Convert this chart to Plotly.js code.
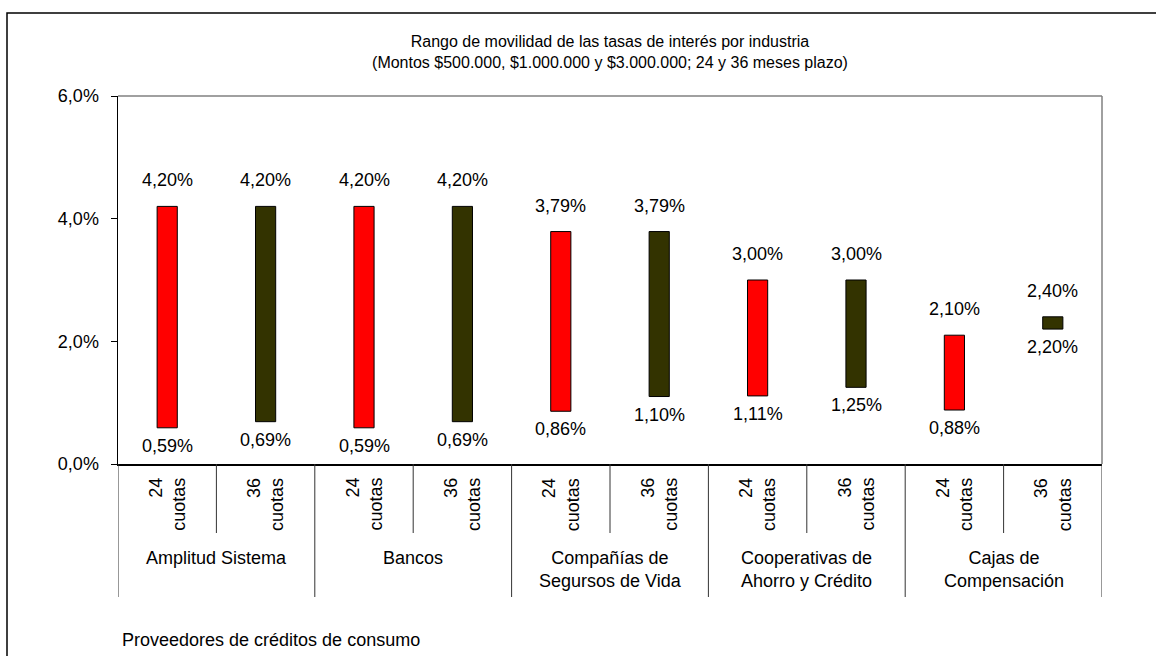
<!DOCTYPE html>
<html>
<head>
<meta charset="utf-8">
<script src="https://cdn.plot.ly/plotly-3.0.1.min.js"></script>
<style>
  html, body { margin: 0; padding: 0; background: #fff; }
  #chart { width: 1156px; height: 656px; }
</style>
</head>
<body>
<div id="chart"></div>
<script>
  // ====== Data ======
  var groups = ['Amplitud Sistema', 'Bancos', 'Compañías de<br>Segursos de Vida',
                'Cooperativas de<br>Ahorro y Crédito', 'Cajas de<br>Compensación'];
  var terms = ['24<br>cuotas', '36<br>cuotas'];
  var minRates = [0.59, 0.69, 0.59, 0.69, 0.86, 1.10, 1.11, 1.25, 0.88, 2.20];
  var maxRates = [4.20, 4.20, 4.20, 4.20, 3.79, 3.79, 3.00, 3.00, 2.10, 2.40];
  var yTicks = [0, 2, 4, 6];
  var title = 'Rango de movilidad de las tasas de interés por industria<br>' +
              '(Montos $500.000, $1.000.000 y $3.000.000; 24 y 36 meses plazo)';
  var footer = 'Proveedores de créditos de consumo';

  // ====== Style ======
  var FONT = 'Liberation Sans, Arial, sans-serif';
  var termColors = ['#ff0000', '#333300'];
  var PLOT_H = 368, PLOT_W = 984; // px of plot area, used to convert pixel offsets to paper

  function fmt(v, d) { return v.toFixed(d).replace('.', ',') + '%'; }
  function py(px) { return -px / PLOT_H; }   // px below the x axis -> paper y
  function px2x(px) { return px / PLOT_W; }  // px right of the y axis -> paper x

  var xs = [], heights = [], colors = [];
  for (var i = 0; i < minRates.length; i++) {
    xs.push(i);
    heights.push(maxRates[i] - minRates[i]);
    colors.push(termColors[i % terms.length]);
  }

  var trace = {
    type: 'bar', x: xs, y: heights, base: minRates, width: 0.205,
    marker: { color: colors, line: { color: '#000', width: 1 } },
    hoverinfo: 'skip'
  };

  var annotations = [], shapes = [];
  var valFont = { family: FONT, size: 18, color: '#000' };
  var txtFont = { family: FONT, size: 18, color: '#000' };

  // value labels
  for (var i = 0; i < xs.length; i++) {
    annotations.push({ x: xs[i], y: maxRates[i], xref: 'x', yref: 'y', text: fmt(maxRates[i], 2),
      showarrow: false, yanchor: 'bottom', yshift: 14, font: valFont });
    annotations.push({ x: xs[i], y: minRates[i], xref: 'x', yref: 'y', text: fmt(minRates[i], 2),
      showarrow: false, yanchor: 'top', yshift: -6, font: valFont });
  }

  // category axis: term labels, group labels, dividers
  for (var i = 0; i < xs.length; i++) {
    annotations.push({ x: xs[i], y: py(12), xref: 'x', yref: 'paper', text: terms[i % terms.length],
      showarrow: false, textangle: -90, align: 'right', yanchor: 'top', font: txtFont });
  }
  for (var g = 0; g < groups.length; g++) {
    var gx = g * terms.length + (terms.length - 1) / 2;
    annotations.push({ x: gx, y: py(82), xref: 'x', yref: 'paper', text: groups[g],
      showarrow: false, yanchor: 'top', font: txtFont });
  }
  for (var k = 0; k <= xs.length; k++) {
    var isGroup = k % terms.length === 0;
    shapes.push({ type: 'line', xref: 'x', yref: 'paper', x0: k - 0.5, x1: k - 0.5,
      y0: 0, y1: py(isGroup ? 133 : 69), line: { color: '#333', width: 1 } });
  }

  // plot area frame (top & right) and outer chart border
  shapes.push({ type: 'line', xref: 'paper', yref: 'paper', x0: 0, x1: 1, y0: 1, y1: 1,
    line: { color: '#808080', width: 1.5 } });
  shapes.push({ type: 'line', xref: 'paper', yref: 'paper', x0: 1, x1: 1, y0: 0, y1: 1,
    line: { color: '#808080', width: 1.5 } });
  shapes.push({ type: 'rect', xref: 'paper', yref: 'paper', x0: px2x(-111), x1: px2x(1060),
    y0: py(210), y1: 1 + 83 / PLOT_H, line: { color: '#000', width: 1.5 } });

  annotations.push({ x: px2x(2), y: py(176), xref: 'paper', yref: 'paper', text: footer,
    showarrow: false, xanchor: 'left', yanchor: 'middle', font: txtFont });

  var layout = {
    width: 1156, height: 656,
    margin: { l: 118, r: 54, t: 96, b: 192 },
    paper_bgcolor: '#fff', plot_bgcolor: '#fff',
    showlegend: false,
    font: { family: FONT, size: 16, color: '#000' },
    title: { text: title, x: 0.5, xref: 'paper', xanchor: 'center',
             y: 1 - 47 / 656, yref: 'container', yanchor: 'middle',
             font: { family: FONT, size: 16, color: '#000' } },
    xaxis: { range: [-0.5, xs.length - 0.5], showticklabels: false, showgrid: false,
             zeroline: false, showline: true, linecolor: '#000', linewidth: 1.5, ticks: '' },
    yaxis: { range: [0, 6], tickvals: yTicks, ticktext: yTicks.map(function (v) { return fmt(v, 1); }),
             showgrid: false, zeroline: false, showline: true, linecolor: '#000', linewidth: 1.5,
             ticks: 'outside', ticklen: 6, tickcolor: '#000', ticklabelstandoff: 8,
             tickfont: { family: FONT, size: 18, color: '#000' } },
    annotations: annotations,
    shapes: shapes
  };

  Plotly.newPlot('chart', [trace], layout, { displayModeBar: false, staticPlot: true });
</script>
</body>
</html>
